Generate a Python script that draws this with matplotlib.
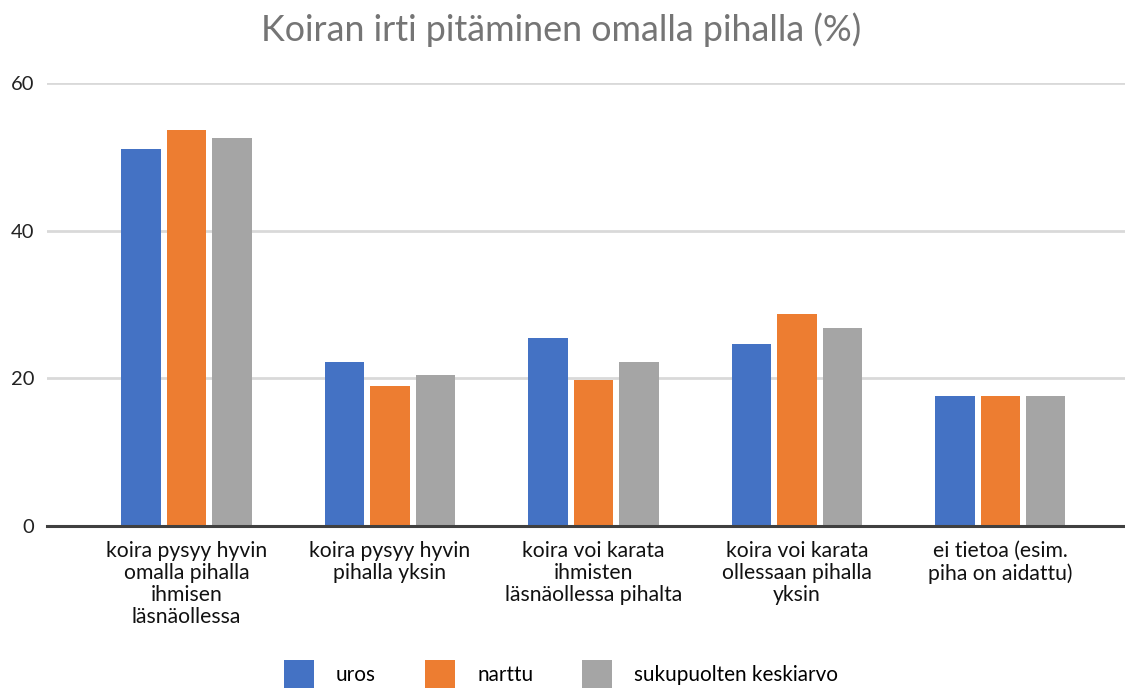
import matplotlib
matplotlib.use("Agg")
import matplotlib.pyplot as plt
from matplotlib.patches import Patch
import numpy as np

title = "Koiran irti pitäminen omalla pihalla (%)"
categories = [
    "koira pysyy hyvin\nomalla pihalla\nihmisen\nläsnäollessa",
    "koira pysyy hyvin\npihalla yksin",
    "koira voi karata\nihmisten\nläsnäollessa pihalta",
    "koira voi karata\nollessaan pihalla\nyksin",
    "ei tietoa (esim.\npiha on aidattu)",
]
series_names = ["uros", "narttu", "sukupuolten keskiarvo"]
uros = [51.1, 22.2, 25.5, 24.7, 17.6]
narttu = [53.6, 19.0, 19.8, 28.7, 17.6]
keskiarvo = [52.6, 20.4, 22.2, 26.8, 17.6]
colors = ["#4472C4", "#ED7D31", "#A5A5A5"]
yticks = [0, 20, 40, 60]

plt.rcParams['font.family'] = ['Lato', 'DejaVu Sans']

fig = plt.figure(figsize=(11.25, 6.88), dpi=100)
ax = fig.add_axes([46.7/1125, 1-526/688, 1-46.7/1125, (526-83)/688])

x = np.arange(len(categories))
w = 0.194
step = 0.2226
for i, (vals, c, n) in enumerate(zip([uros, narttu, keskiarvo], colors, series_names)):
    ax.bar(x + (i-1)*step, vals, width=w, color=c, label=n, zorder=3)

ax.set_ylim(0, 60)
ax.set_xlim(-0.687, 4.612)
ax.set_yticks(yticks)
ax.set_yticklabels([str(t) for t in yticks], fontsize=14.5, color="#222222")
ax.yaxis.grid(True, color="#D9D9D9", linewidth=2, zorder=0)
ax.set_xticks(x)
ax.set_xticklabels(categories, fontsize=15.2, color="#111111", linespacing=1.12, va="top")
ax.tick_params(axis='x', length=0, pad=11)
ax.tick_params(axis='y', length=0, pad=9)
for s in ["top", "right", "left"]:
    ax.spines[s].set_visible(False)
ax.spines["bottom"].set_color("#404040")
ax.spines["bottom"].set_linewidth(2.2)
ax.spines["bottom"].set_zorder(4)

fig.text(0.4985, 1-30/688, title, ha="center", va="center", fontsize=25.8, color="#757575")

handles = [Patch(facecolor=c, edgecolor="none") for c in colors]
fig.legend(handles, series_names, loc="center", bbox_to_anchor=(561/1125, 1-674/688),
           ncol=3, frameon=False, fontsize=14.9, handlelength=1.45, handleheight=1.7,
           handletextpad=1.09, columnspacing=2.35, borderaxespad=0)

fig.savefig("out.png", dpi=100)
